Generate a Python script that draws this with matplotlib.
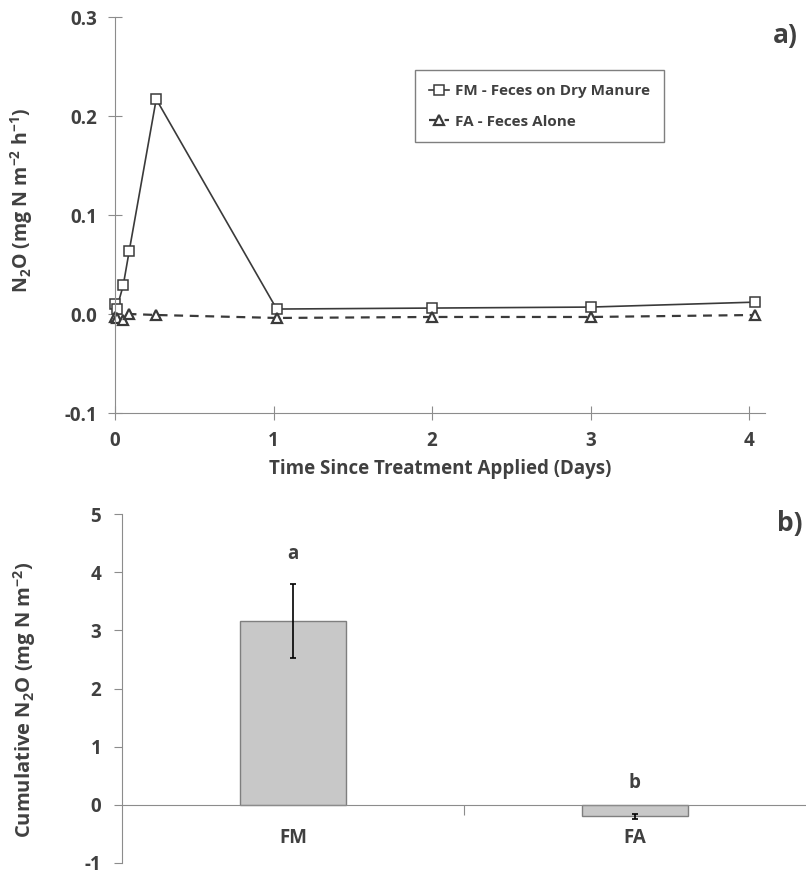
import matplotlib
matplotlib.use("Agg")
import matplotlib.pyplot as plt

plt.rcParams["font.family"] = ["Open Sans", "DejaVu Sans"]
plt.rcParams["font.weight"] = "bold"
plt.rcParams["mathtext.fontset"] = "custom"
plt.rcParams["mathtext.rm"] = "Open Sans:bold"
plt.rcParams["mathtext.default"] = "rm"
plt.rcParams["axes.unicode_minus"] = False

TXT = "#404040"
AXC = "#8c8c8c"

# panel a) - N2O flux over time
fm_days = [0.0, 0.01, 0.052, 0.09, 0.26, 1.02, 2.0, 3.0, 4.04]
fm_flux = [0.010, 0.005, 0.029, 0.064, 0.217, 0.005, 0.006, 0.007, 0.012]
fa_days = [0.0, 0.01, 0.052, 0.09, 0.26, 1.02, 2.0, 3.0, 4.04]
fa_flux = [-0.003, -0.004, -0.006, 0.000, -0.001, -0.004, -0.003, -0.003, -0.001]

# panel b) - cumulative N2O
treatments = ["FM", "FA"]
cum_n2o = [3.16, -0.20]
cum_err = [0.63, 0.05]
letters = ["a", "b"]
letter_y = [4.32, 0.37]

fig = plt.figure(figsize=(8.06, 8.77), dpi=100)
W, H = 806, 877
ax1 = fig.add_axes([115 / W, 1 - 413 / H, 650 / W, 396 / H])
ax2 = fig.add_axes([122 / W, 1 - 863 / H, 684 / W, 349 / H])

# ---- top
ax1.plot(fm_days, fm_flux, color="#3a3a3a", lw=1.2, marker="s", ms=7,
         mfc="white", mec="#3a3a3a", mew=1.1, clip_on=False,
         label="FM - Feces on Dry Manure")
ax1.plot(fa_days, fa_flux, color="#3a3a3a", lw=1.6, ls=(0, (4, 3)),
         marker="^", ms=7, mfc="white", mec="#3a3a3a", mew=1.6,
         clip_on=False, label="FA - Feces Alone")
ax1.set_xlim(0, 4.1)
ax1.set_ylim(-0.1, 0.3)
ax1.set_xticks([0, 1, 2, 3, 4])
ax1.set_yticks([-0.1, 0.0, 0.1, 0.2, 0.3])
ax1.set_yticklabels(["%.1f" % v for v in ax1.get_yticks()])
for s in ["top", "right"]:
    ax1.spines[s].set_visible(False)
for s in ["left", "bottom"]:
    ax1.spines[s].set_color(AXC)
ax1.tick_params(axis="both", direction="inout", length=10, color=AXC,
                labelsize=13.5, labelcolor=TXT, pad=8)
for lab in ax1.get_xticklabels() + ax1.get_yticklabels():
    lab.set_fontweight("bold")
ax1.set_xlabel("Time Since Treatment Applied (Days)", fontsize=13.5,
               fontweight="bold", color=TXT, labelpad=6)
leg = ax1.legend(loc="upper left", bbox_to_anchor=(0.45, 0.885),
                 prop=dict(size=11, weight="bold"), handlelength=1.3,
                 handletextpad=0.4, borderpad=0.9, labelspacing=1.1,
                 fancybox=False, framealpha=1, edgecolor="#7f7f7f",
                 labelcolor=TXT)
leg.get_frame().set_linewidth(1.0)

fig.text(22 / W, 1 - 200 / H, r"N$_2$O (mg N m$^{-2}$ h$^{-1}$)",
         rotation=90, ha="center", va="center", fontsize=14,
         fontweight="bold", color=TXT)
fig.text(785 / W, 1 - 35 / H, "a)", ha="center", va="center",
         fontsize=19, fontweight="bold", color=TXT)

# ---- bottom
ax2.bar(range(len(treatments)), cum_n2o, width=0.31, color="#c8c8c8",
        edgecolor="#7f7f7f", linewidth=1.0, yerr=cum_err,
        error_kw=dict(ecolor="black", elinewidth=1.2, capsize=2, capthick=1.2))
ax2.set_xlim(-0.5, 1.5)
ax2.set_ylim(-1, 5)
ax2.set_yticks(range(-1, 6))
for s in ["top", "right"]:
    ax2.spines[s].set_visible(False)
ax2.spines["left"].set_color(AXC)
ax2.spines["bottom"].set_color(AXC)
ax2.spines["bottom"].set_position(("data", 0))
ax2.set_xticks([0.5])
ax2.set_xticklabels([])
ax2.tick_params(axis="x", direction="out", length=7, color=AXC)
ax2.tick_params(axis="y", direction="out", length=6, color=AXC,
                labelsize=13.5, labelcolor=TXT, pad=9)
for lab in ax2.get_yticklabels():
    lab.set_fontweight("bold")
for i, t in enumerate(treatments):
    ax2.text(i, -0.57, t, ha="center", va="center", fontsize=13.5,
             fontweight="bold", color=TXT)
    ax2.text(i, letter_y[i], letters[i], ha="center", va="center",
             fontsize=13.5, fontweight="bold", color=TXT)

fig.text(25 / W, 1 - 700 / H, r"Cumulative N$_2$O (mg N m$^{-2}$)",
         rotation=90, ha="center", va="center", fontsize=14.5,
         fontweight="bold", color=TXT)
fig.text(790 / W, 1 - 523 / H, "b)", ha="center", va="center",
         fontsize=19, fontweight="bold", color=TXT)

fig.savefig("out.png", dpi=100)
